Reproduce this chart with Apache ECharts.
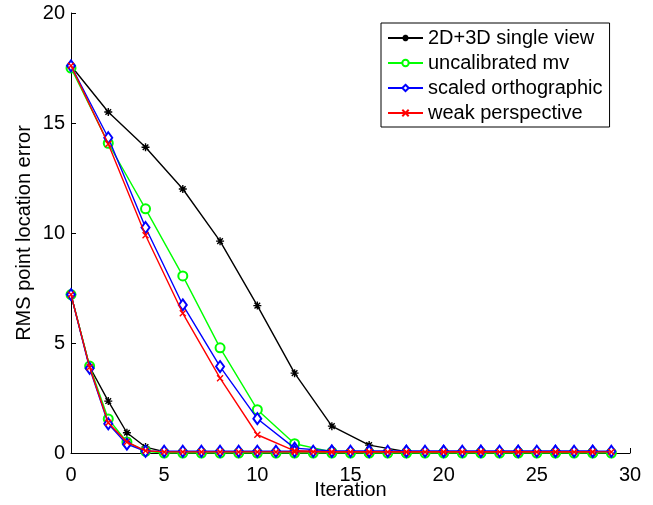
<!DOCTYPE html>
<html>
<head>
<meta charset="utf-8">
<script src="https://cdn.jsdelivr.net/npm/echarts@6/dist/echarts.min.js"></script>
<style>
  html, body { margin: 0; padding: 0; background: #fff; }
  #chart { width: 653px; height: 505px; }
</style>
</head>
<body>
<div id="chart"></div>
<script>
// iterations: the long run is sampled every 2, the short one every step
var itersUpper = [0, 2, 4, 6, 8, 10, 12, 14, 16, 18, 20, 22, 24, 26, 28];
var itersLower = [0, 1, 2, 3, 4, 5, 6, 7, 8, 9, 10, 11, 12, 13, 14, 15, 16, 17, 18, 19, 20, 21, 22, 23, 24, 25, 26, 27, 28, 29];

var names = ['2D+3D single view', 'uncalibrated mv', 'scaled orthographic', 'weak perspective'];
var colors = ['#000000', '#00ff00', '#0000ff', '#ff0000'];

var singleUpper = [17.6, 15.5, 13.9, 12.0, 9.63, 6.7, 3.63, 1.22, 0.36, 0.06, 0.05, 0.05, 0.05, 0.05, 0.05];
var uncalUpper  = [17.5, 14.08, 11.1, 8.05, 4.78, 1.97, 0.42, 0.05, 0.02, 0.02, 0.02, 0.02, 0.02, 0.02, 0.02];
var orthoUpper  = [17.6, 14.33, 10.25, 6.73, 3.93, 1.56, 0.22, 0.09, 0.08, 0.08, 0.08, 0.08, 0.08, 0.08, 0.08];
var weakUpper   = [17.6, 14.05, 9.9, 6.35, 3.4, 0.83, 0.1, 0.05, 0.05, 0.05, 0.05, 0.05, 0.05, 0.05, 0.05];

var singleLower = [7.2, 3.92, 2.36, 0.92, 0.27, 0.06, 0.05, 0.05, 0.05, 0.05, 0.05, 0.05, 0.05, 0.05, 0.05,
                   0.05, 0.05, 0.05, 0.05, 0.05, 0.05, 0.05, 0.05, 0.05, 0.05, 0.05, 0.05, 0.05, 0.05, 0.05];
var uncalLower  = [7.2, 3.95, 1.55, 0.5, 0.08, 0.0, 0.0, 0.0, 0.0, 0.0, 0.0, 0.0, 0.0, 0.0, 0.0,
                   0.0, 0.0, 0.0, 0.0, 0.0, 0.0, 0.0, 0.0, 0.0, 0.0, 0.0, 0.0, 0.0, 0.0, 0.0];
var orthoLower  = [7.2, 3.85, 1.33, 0.4, 0.08, 0.08, 0.08, 0.08, 0.08, 0.08, 0.08, 0.08, 0.08, 0.08, 0.08,
                   0.08, 0.08, 0.08, 0.08, 0.08, 0.08, 0.08, 0.08, 0.08, 0.08, 0.08, 0.08, 0.08, 0.08, 0.08];
var weakLower   = [7.2, 3.9, 1.38, 0.5, 0.1, 0.05, 0.05, 0.05, 0.05, 0.05, 0.05, 0.05, 0.05, 0.05, 0.05,
                   0.05, 0.05, 0.05, 0.05, 0.05, 0.05, 0.05, 0.05, 0.05, 0.05, 0.05, 0.05, 0.05, 0.05, 0.05];

var upperSets = [singleUpper, uncalUpper, orthoUpper, weakUpper];
var lowerSets = [singleLower, uncalLower, orthoLower, weakLower];

var asterisk = 'path://M0,5L10,5M5,0L5,10M1.5,1.5L8.5,8.5M1.5,8.5L8.5,1.5';
var cross = 'path://M0,0L10,10M0,10L10,0';
var symbols = [asterisk, 'emptyCircle', 'emptyDiamond', cross];
var sizes = [8, 9, [8, 11], 6];

var zip = function (xs, ys) {
    var out = [];
    for (var i = 0; i < xs.length; i++) out.push([xs[i], ys[i]]);
    return out;
};

var makeSeries = function (idx, data) {
    return {
        name: names[idx],
        type: 'line',
        data: data,
        symbol: symbols[idx],
        symbolSize: sizes[idx],
        showAllSymbol: true,
        animation: false,
        z: 2 + idx,
        lineStyle: { color: colors[idx], width: 1.4 },
        itemStyle: { color: colors[idx], borderColor: colors[idx], borderWidth: 1.4 }
    };
};

var series = [];
for (var k = 0; k < 4; k++) {
    series.push(makeSeries(k, zip(itersUpper, upperSets[k])));
    series.push(makeSeries(k, zip(itersLower, lowerSets[k])));
}

var font = 'Liberation Sans, Arial, sans-serif';
var chart = echarts.init(document.getElementById('chart'));
chart.setOption({
    backgroundColor: '#fff',
    textStyle: { fontFamily: font },
    grid: { left: 71, right: 23, top: 13, bottom: 52, outerBoundsMode: 'none' },
    legend: {
        data: names,
        orient: 'vertical',
        left: 381,
        top: 23,
        padding: [5, 7, 4, 6],
        itemWidth: 35,
        itemHeight: 8,
        itemGap: 5,
        borderColor: '#000',
        borderWidth: 1,
        backgroundColor: '#fff',
        textStyle: { fontSize: 20, color: '#000', fontFamily: font }
    },
    xAxis: {
        type: 'value',
        min: 0, max: 30, interval: 5,
        name: 'Iteration',
        nameLocation: 'middle',
        nameGap: 27,
        nameMoveOverlap: false,
        nameTextStyle: { fontSize: 20, color: '#000', fontFamily: font },
        axisLine: { lineStyle: { color: '#000', width: 1 } },
        axisTick: { inside: true, length: 5, lineStyle: { color: '#000' } },
        axisLabel: { fontSize: 20, color: '#000', margin: 12, fontFamily: font },
        splitLine: { show: false }
    },
    yAxis: {
        type: 'value',
        min: 0, max: 20, interval: 5,
        name: 'RMS point location error',
        nameLocation: 'middle',
        nameGap: 37,
        nameMoveOverlap: false,
        nameTextStyle: { fontSize: 20, color: '#000', fontFamily: font },
        axisLine: { show: true, lineStyle: { color: '#000', width: 1 } },
        axisTick: { show: true, inside: true, length: 5, lineStyle: { color: '#000' } },
        axisLabel: { fontSize: 20, color: '#000', margin: 6, fontFamily: font },
        splitLine: { show: false }
    },
    series: series
});
</script>
</body>
</html>
